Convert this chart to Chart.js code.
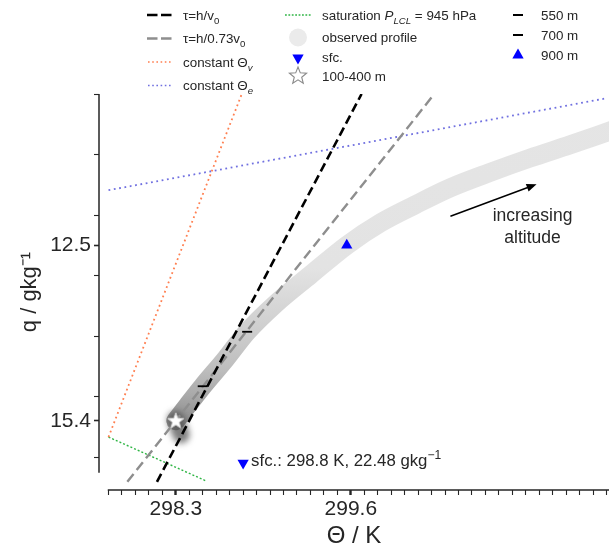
<!DOCTYPE html>
<html><head><meta charset="utf-8">
<script src="https://cdn.jsdelivr.net/npm/chart.js@4.4.1/dist/chart.umd.min.js"></script>
<style>html,body{margin:0;padding:0;background:#fff;overflow:hidden}#wrap{position:relative;width:610px;height:546px}</style>
</head><body><div id="wrap"><canvas id="c"></canvas></div>
<script>
// ---------------- data ----------------
const profileTheta = [298.30, 298.39, 298.50, 298.67, 298.83, 299.04, 299.30, 299.57, 299.82, 300.08, 300.34, 300.63, 300.93, 301.23, 301.54];
const profileQ     = [15.40, 15.14, 14.83, 14.38, 13.93, 13.47, 12.99, 12.50, 12.13, 11.83, 11.55, 11.30, 11.06, 10.84, 10.60];
const denseTheta = [298.30, 298.32, 298.34];
const denseQ     = [15.38, 15.52, 15.63];
const tauV0Theta  = [298.16, 299.68];
const tauV0Q      = [16.41, 10.00];
const tau073Theta = [297.94, 300.22];
const tau073Q     = [16.41, 10.00];
const constThetaVTheta = [297.80, 298.79];
const constThetaVQ     = [15.67, 10.00];
const constThetaETheta = [297.80, 301.50];
const constThetaEQ     = [11.59, 10.07];
const satTheta = [297.80, 298.53];
const satQ     = [15.67, 16.40];
const sfcMarker   = [298.80, 16.10];
const layerMarker = [298.30, 15.40];   // 100-400 m
const m550Marker  = [298.50, 14.83];
const m700Marker  = [298.83, 13.93];
const m900Marker  = [299.57, 12.50];
const sfcObserved = [298.8, 22.48];
const xMajorTicks = [298.3, 299.6];
const xMinorTicks = Array.from({length: 38}, (_, i) => +(297.8 + 0.1 * i).toFixed(1));
const yMajorTicks = [12.5, 15.4];
const yMinorTicks = [10, 11, 12, 13, 14, 15, 16];
const ySpineRange = [10, 16.26];
const xSpineStart = 297.8;

// ---------------- helpers ----------------
const FONT = '"Liberation Sans", Arial, Helvetica, sans-serif';
const TXT = '#262626';
const AREA = {left: 99, right: 609, top: 94, bottom: 490};
const pts = (xs, ys) => xs.map((x, i) => ({x, y: ys[i]}));

function starPath(ctx, cx, cy, R, r) {
  ctx.beginPath();
  for (let i = 0; i < 10; i++) {
    const a = -Math.PI / 2 + i * Math.PI / 5;
    const rr = i % 2 ? r : R;
    const px = cx + Math.cos(a) * rr, py = cy + Math.sin(a) * rr;
    i ? ctx.lineTo(px, py) : ctx.moveTo(px, py);
  }
  ctx.closePath();
}
const starImg = document.createElement('canvas');
starImg.width = 20; starImg.height = 20;
(() => { const g = starImg.getContext('2d'); starPath(g, 10, 10.5, 8.5, 3.6); g.fillStyle = '#fff'; g.fill(); g.strokeStyle = '#cfcfcf'; g.lineWidth = 1; g.stroke(); })();

function richText(ctx, x, yc, parts, size) {
  let cx = x; const base = yc + size * 0.36;
  ctx.textBaseline = 'alphabetic'; ctx.textAlign = 'left'; ctx.fillStyle = TXT;
  for (const p of parts) {
    const s = (p.sub || p.sup) ? size * 0.72 : size;
    ctx.font = `${p.it ? 'italic ' : ''}${s}px ${FONT}`;
    const dy = p.sub ? size * 0.3 : p.sup ? -size * 0.42 : 0;
    ctx.fillText(p.t, cx, base + dy);
    cx += ctx.measureText(p.t).width;
  }
  return cx;
}

function bandColor(c) {
  const chart = c.chart;
  if (!chart.chartArea) return '#e2e2e2';
  const y = chart.scales.y;
  const y0 = y.getPixelForValue(10), y1 = y.getPixelForValue(16);
  const g = chart.ctx.createLinearGradient(0, y0, 0, y1);
  g.addColorStop(0, '#e5e5e5');
  g.addColorStop(0.48, '#e3e3e3');
  g.addColorStop(0.56, '#d9d9d9');
  g.addColorStop(0.66, '#cdcdcd');
  g.addColorStop(0.76, '#bdbdbd');
  g.addColorStop(0.83, '#a9a9a9');
  g.addColorStop(0.9, '#8e8e8e');
  g.addColorStop(1, '#a0a0a0');
  return g;
}

const lineDs = (label, xs, ys, color, width, dash, order) => ({
  label, data: pts(xs, ys), showLine: true, borderColor: color, borderWidth: width,
  borderDash: dash, pointRadius: 0, fill: false, order, borderCapStyle: 'butt'
});

const datasets = [
  { label: 'observed profile', data: pts(profileTheta, profileQ), showLine: true, cubicInterpolationMode: 'monotone',
    borderColor: bandColor, borderWidth: 19, pointRadius: 0, borderCapStyle: 'round', borderJoinStyle: 'round', order: 30 },
  { label: 'dense', data: pts(denseTheta, denseQ), showLine: true, blur: 3,
    borderColor: 'rgba(75,75,75,0.72)', borderWidth: 17, pointRadius: 0, borderCapStyle: 'round', order: 29 },
  lineDs('τ=h/v0', tauV0Theta, tauV0Q, '#000', 2.6, [9, 4.5], 10),
  lineDs('τ=h/0.73v0', tau073Theta, tau073Q, '#8e8e8e', 2.4, [10, 5], 11),
  lineDs('constant Θv', constThetaVTheta, constThetaVQ, '#ff7f50', 1.8, [1.8, 3.2], 12),
  lineDs('constant Θe', constThetaETheta, constThetaEQ, '#7070e0', 1.8, [1.8, 3.6], 12),
  lineDs('saturation', satTheta, satQ, '#2fb545', 1.4, [2, 2], 12),
  { label: 'sfc.', data: [{x: sfcMarker[0], y: sfcMarker[1]}], pointStyle: 'triangle', rotation: 180,
    pointRadius: 6.5, backgroundColor: '#0000ff', borderColor: '#0000ff', borderWidth: 0, order: 1 },
  { label: '100-400 m', data: [{x: layerMarker[0], y: layerMarker[1]}], pointStyle: starImg, pointRadius: 9, order: 1 },
  { label: '550 m', data: [{x: m550Marker[0], y: m550Marker[1]}], pointStyle: 'line', pointRadius: 5,
    borderColor: '#000', borderWidth: 1.8, order: 1 },
  { label: '700 m', data: [{x: m700Marker[0], y: m700Marker[1]}], pointStyle: 'line', pointRadius: 5,
    borderColor: '#000', borderWidth: 1.8, order: 1 },
  { label: '900 m', data: [{x: m900Marker[0], y: m900Marker[1]}], pointStyle: 'triangle',
    pointRadius: 6.5, backgroundColor: '#0000ff', borderColor: '#0000ff', borderWidth: 0, order: 1 }
];

function drawLegend(ctx) {
  const fs = 13.4;
  ctx.save();
  const hl = (x1, x2, y, color, w, dash) => {
    ctx.beginPath(); ctx.setLineDash(dash); ctx.strokeStyle = color; ctx.lineWidth = w;
    ctx.moveTo(x1, y); ctx.lineTo(x2, y); ctx.stroke(); ctx.setLineDash([]);
  };
  const tri = (cx, cy, r, down) => {
    ctx.beginPath(); const s = down ? -1 : 1;
    ctx.moveTo(cx, cy - s * r); ctx.lineTo(cx + r * 0.87, cy + s * r * 0.55); ctx.lineTo(cx - r * 0.87, cy + s * r * 0.55);
    ctx.closePath(); ctx.fillStyle = '#0000ff'; ctx.fill();
  };
  const c1 = [15, 38.5, 62, 85.5];
  hl(147, 172, c1[0], '#000', 2.6, [10.5, 3.5]);
  richText(ctx, 183, c1[0], [{t: 'τ=h/v'}, {t: '0', sub: true}], fs);
  hl(147, 172, c1[1], '#8e8e8e', 2.4, [10.5, 3.5]);
  richText(ctx, 183, c1[1], [{t: 'τ=h/0.73v'}, {t: '0', sub: true}], fs);
  hl(148, 173, c1[2], '#ff7f50', 1.6, [1.6, 2.6]);
  richText(ctx, 183, c1[2], [{t: 'constant Θ'}, {t: 'v', sub: true, it: true}], fs);
  hl(148, 173, c1[3], '#7070e0', 1.6, [1.6, 2.6]);
  richText(ctx, 183, c1[3], [{t: 'constant Θ'}, {t: 'e', sub: true, it: true}], fs);
  const c2 = [15, 37.5, 57, 76];
  hl(285, 311, c2[0], '#2fb545', 1.3, [1.8, 1.6]);
  richText(ctx, 322, c2[0], [{t: 'saturation '}, {t: 'P', it: true}, {t: 'LCL', sub: true, it: true}, {t: ' = 945 hPa'}], fs);
  ctx.beginPath(); ctx.arc(298, c2[1], 9, 0, Math.PI * 2); ctx.fillStyle = '#ebebeb'; ctx.fill();
  richText(ctx, 322, c2[1], [{t: 'observed profile'}], fs);
  tri(298, c2[2] + 1, 6.5, true);
  richText(ctx, 322, c2[2], [{t: 'sfc.'}], fs);
  starPath(ctx, 298, c2[3], 9, 3.9); ctx.fillStyle = '#fff'; ctx.fill(); ctx.strokeStyle = '#8a8a8a'; ctx.lineWidth = 1.1; ctx.stroke();
  richText(ctx, 322, c2[3], [{t: '100-400 m'}], fs);
  const c3 = [15, 35, 55];
  hl(513, 523, c3[0], '#000', 2, []);
  richText(ctx, 541, c3[0], [{t: '550 m'}], fs);
  hl(513, 523, c3[1], '#000', 2, []);
  richText(ctx, 541, c3[1], [{t: '700 m'}], fs);
  tri(518, c3[2], 6.5, false);
  richText(ctx, 541, c3[2], [{t: '900 m'}], fs);
  ctx.restore();
}

const decor = {
  id: 'decor',
  beforeDatasetDraw(chart, args) {
    const ds = chart.data.datasets[args.index];
    if (ds.blur) chart.ctx.filter = `blur(${ds.blur}px)`;
  },
  afterDatasetDraw(chart) { chart.ctx.filter = 'none'; },
  afterDraw(chart) {
    const {ctx, chartArea: a, scales: {x, y}} = chart;
    ctx.save();
    ctx.strokeStyle = TXT; ctx.lineWidth = 1.5; ctx.setLineDash([]);
    ctx.beginPath();
    ctx.moveTo(a.left, y.getPixelForValue(ySpineRange[0])); ctx.lineTo(a.left, y.getPixelForValue(ySpineRange[1]));
    ctx.moveTo(x.getPixelForValue(xSpineStart) - 0.75, a.bottom); ctx.lineTo(a.right, a.bottom);
    ctx.stroke();
    const ax1 = x.getPixelForValue(300.34), ay1 = y.getPixelForValue(12.02);
    const ax2 = x.getPixelForValue(300.98), ay2 = y.getPixelForValue(11.49);
    const ang = Math.atan2(ay2 - ay1, ax2 - ax1);
    ctx.strokeStyle = '#000'; ctx.fillStyle = '#000'; ctx.lineWidth = 1.5;
    ctx.beginPath(); ctx.moveTo(ax1, ay1); ctx.lineTo(ax2 - Math.cos(ang) * 8, ay2 - Math.sin(ang) * 8); ctx.stroke();
    ctx.beginPath(); ctx.moveTo(ax2, ay2);
    ctx.lineTo(ax2 - Math.cos(ang) * 10 + Math.sin(ang) * 4, ay2 - Math.sin(ang) * 10 - Math.cos(ang) * 4);
    ctx.lineTo(ax2 - Math.cos(ang) * 10 - Math.sin(ang) * 4, ay2 - Math.sin(ang) * 10 + Math.cos(ang) * 4);
    ctx.closePath(); ctx.fill();
    ctx.fillStyle = TXT; ctx.font = `17.5px ${FONT}`; ctx.textAlign = 'center'; ctx.textBaseline = 'middle';
    const tx = x.getPixelForValue(300.95);
    ctx.fillText('increasing', tx, y.getPixelForValue(12.02));
    ctx.fillText('altitude', tx, y.getPixelForValue(12.38));
    const sx = x.getPixelForValue(sfcMarker[0]) + 8, sy = y.getPixelForValue(sfcMarker[1]) - 3;
    richText(ctx, sx, sy, [{t: `sfc.: ${sfcObserved[0]} K, ${sfcObserved[1]} gkg`}, {t: '\u22121', sup: true}], 16.8);
    drawLegend(ctx);
    ctx.restore();
  }
};

const noEdgePad = s => { s.paddingLeft = 0; s.paddingRight = 0; s.paddingTop = 0; s.paddingBottom = 0; };

const chart = new Chart(document.getElementById('c'), {
  type: 'scatter',
  data: { datasets },
  options: {
    responsive: true, maintainAspectRatio: false, animation: false,
    layout: { autoPadding: false, padding: { top: 94, right: 1, left: 0, bottom: 0 } },
    plugins: { legend: { display: false }, tooltip: { enabled: false } },
    scales: {
      x: {
        type: 'linear', min: 297.7294, max: 301.518,
        afterBuildTicks: s => { s.ticks = xMinorTicks.map(v => ({value: v})); },
        afterFit: s => { s.height = 56; noEdgePad(s); },
        border: { display: false },
        grid: { drawOnChartArea: false, drawTicks: true, tickLength: 5,
          tickColor: TXT,
          tickWidth: c => xMajorTicks.some(v => Math.abs(v - c.tick.value) < 1e-6) ? 2.4 : 1.1 },
        ticks: { autoSkip: false, maxRotation: 0, padding: 2, color: TXT, font: { family: FONT, size: 21 },
          callback: v => { const m = xMajorTicks.find(t => Math.abs(t - v) < 1e-6); return m === undefined ? '' : m.toFixed(1); } },
        title: { display: true, text: 'Θ / K', color: TXT, font: { family: FONT, size: 24, lineHeight: '20px' }, padding: { top: 0, bottom: 0 } }
      },
      y: {
        type: 'linear', reverse: true, min: 10, max: 16.545,
        afterBuildTicks: s => { s.ticks = yMinorTicks.concat(yMajorTicks).sort((a, b) => a - b).map(v => ({value: v})); },
        afterFit: s => { s.width = 99; noEdgePad(s); },
        border: { display: false },
        grid: { drawOnChartArea: false, drawTicks: true, tickLength: 5, tickColor: TXT,
          tickWidth: c => yMajorTicks.some(v => Math.abs(v - c.tick.value) < 1e-6) ? 1.6 : 1.1 },
        ticks: { autoSkip: false, padding: 3, color: TXT, font: { family: FONT, size: 21 },
          callback: v => { const m = yMajorTicks.find(t => Math.abs(t - v) < 1e-6); return m === undefined ? '' : m.toFixed(1); } },
        title: { display: true, text: 'q / gkg⁻¹', color: TXT, font: { family: FONT, size: 22 }, padding: { top: 17, bottom: 0 } }
      }
    }
  },
  plugins: [decor]
});

// pin the plot area to the reference position
for (let i = 0; i < 4; i++) {
  const a = chart.chartArea;
  const p = Object.assign({}, chart.options.layout.padding);
  const dL = a.left - AREA.left, dR = a.right - AREA.right, dT = a.top - AREA.top, dB = a.bottom - AREA.bottom;
  if (Math.abs(dL) + Math.abs(dR) + Math.abs(dT) + Math.abs(dB) < 0.3) break;
  chart.options.layout.padding = { left: p.left - dL, right: Math.max(0, p.right + dR), top: p.top - dT, bottom: p.bottom + dB };
  chart.update();
}
</script>
</body></html>
